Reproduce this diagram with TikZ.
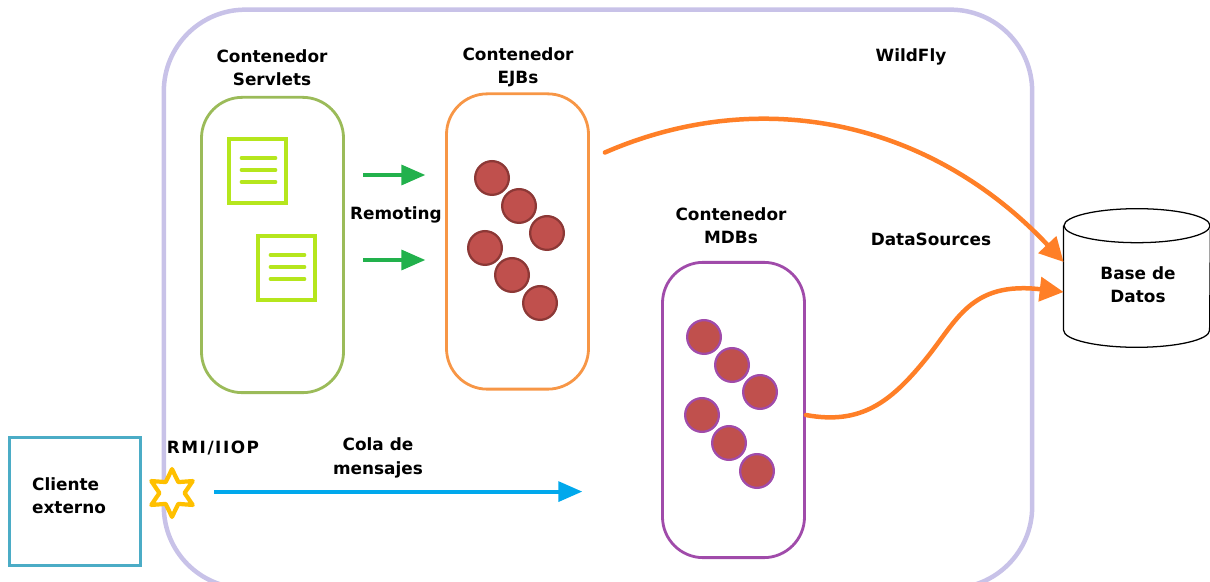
\documentclass[tikz,border=0pt]{standalone}
\usepackage{fontspec}
\setmainfont{DejaVu Sans}
\usepackage{xcolor}
\usepackage{tikz}
\usetikzlibrary{arrows.meta,shapes.geometric}
\definecolor{lavanda}{RGB}{200,194,232}
\definecolor{verdeserv}{RGB}{155,187,89}
\definecolor{naranjaejb}{RGB}{247,150,70}
\definecolor{moradomdb}{RGB}{160,75,170}
\definecolor{azulcliente}{RGB}{75,172,198}
\definecolor{limadoc}{RGB}{181,230,29}
\definecolor{rojobean}{RGB}{192,80,77}
\definecolor{bordebean}{RGB}{140,56,54}
\definecolor{verdeflecha}{RGB}{34,177,76}
\definecolor{naranjaflecha}{RGB}{255,127,39}
\definecolor{azulflecha}{RGB}{0,168,236}
\definecolor{oro}{RGB}{255,192,0}
\tikzset{
	contenedor/.style={draw, rounded corners=29pt, minimum width=101pt, minimum height=210pt, line width=2pt, inner sep=0},
	etiqueta/.style={font=\bfseries\fontsize{12}{16.5}\selectfont, align=center, inner sep=0},
	documento/.style={draw=limadoc, line width=3pt, minimum width=40pt, minimum height=46pt, inner sep=0},
	renglon/.style={limadoc, line width=2.6pt, line cap=round},
	bean/.style={circle, draw, fill=rojobean, line width=1.6pt, minimum size=24pt, inner sep=0},
	flechaverde/.style={verdeflecha, line width=2.8pt, -{Triangle[length=17pt,width=14pt]}},
	flechadatos/.style={naranjaflecha, line width=3.2pt, line cap=round, -{Triangle[length=17pt,width=17pt]}}
}
\begin{document}
\begin{tikzpicture}[x=0.025cm, y=-0.025cm]
	\useasboundingbox (0,0) rectangle (1210,582);
	\begin{scope}
	\clip (0,0) rectangle (1210,582);
	% Servidor
	\node[draw=lavanda, line width=3.2pt, rounded corners=58pt, minimum width=617.5pt, minimum height=411.5pt, inner sep=0] at (598,299) (wildfly) {};
	% Base de datos
	\node[minimum width=104pt, minimum height=98pt, inner sep=0] at (1137,278) (bd) {};
	\draw[line width=0.9pt] ([yshift=-12pt]bd.north west) -- ([yshift=12pt]bd.south west) arc[start angle=180, end angle=0, x radius=73, y radius=17] -- ([yshift=-12pt]bd.north east);
	\draw[line width=0.9pt] ([yshift=-12pt]bd.north) ellipse[x radius=73, y radius=17];
	\end{scope}
	% Contenedores
	\node[contenedor, draw=verdeserv] at (272.5,245) (servlets) {};
	\node[contenedor, draw=naranjaejb] at (517.5,241.5) (ejbs) {};
	\node[contenedor, draw=moradomdb] at (733.5,410) (mdbs) {};
	\node[draw=azulcliente, line width=2pt, minimum width=93pt, minimum height=91pt, inner sep=0] at (75,501.5) (cliente) {};
	% Servlets
	\node[documento] at (257.5,171) (doca) {};
	\node[documento] at (286.5,268) (docb) {};
	\foreach \doc in {doca,docb}
		\foreach \dy in {-13,-1,11}
			\draw[renglon] ([shift={(-16,\dy)}]\doc.center) -- ([shift={(18,\dy)}]\doc.center);
	% EJBs
	\foreach \n/\x/\y in {1/492/178, 2/519/206, 3/547/233, 4/485/248, 5/512/275, 6/540/303}
		\node[bean, draw=bordebean] at (\x,\y) (ejb\n) {};
	% MDBs
	\foreach \n/\x/\y in {1/704/337, 2/732/365, 3/760/392, 4/702/415, 5/729/443, 6/757/471}
		\node[bean, draw=moradomdb] at (\x,\y) (mdb\n) {};
	% Estrella RMI/IIOP
	\node[star, star points=6, star point ratio=1.9, draw=oro, fill=white, line width=3pt, line join=round, minimum size=34pt, inner sep=0] at (172,493) (rmi) {};
	% Flechas
	\coordinate (remotoa) at ([xshift=13pt]servlets.east |- 0,175);
	\coordinate (remotob) at ([xshift=13pt]servlets.east |- 0,260);
	\coordinate (ejbsa) at ([xshift=-14pt]ejbs.west |- 0,175);
	\coordinate (ejbsb) at ([xshift=-14pt]ejbs.west |- 0,260);
	\draw[flechaverde] (remotoa) -- (ejbsa);
	\draw[flechaverde] (remotob) -- (ejbsb);
	\coordinate (colaini) at ([xshift=30pt,yshift=1pt]rmi.center);
	\coordinate (colafin) at ([xshift=-56pt]mdbs.west |- colaini);
	\draw[azulflecha, line width=2.8pt, -{Triangle[length=17pt,width=14pt]}] (colaini) -- (colafin);
	\coordinate (ejbsal) at ([shift={(15,-89)}]ejbs.east);
	\coordinate (mdbsal) at (mdbs.east |- 0,415);
	\coordinate (bdarriba) at ([shift={(0,-16)}]bd.west);
	\coordinate (bdabajo) at ([shift={(0,14)}]bd.west);
	\draw[flechadatos] (ejbsal) .. controls (760,85) and (930,120) .. (bdarriba);
	\draw[flechadatos] (mdbsal) .. controls (860,425) and (890,403) .. (925,360) .. controls (957,321) and (970,281) .. (bdabajo);
	% Textos
	\node[etiqueta] at (272,68) (txtservlets) {Contenedor\\Servlets};
	\node[etiqueta] at (518,67) (txtejbs) {Contenedor\\EJBs};
	\node[etiqueta] at (731,226) (txtmdbs) {Contenedor\\MDBs};
	\node[etiqueta] at (911,57) (txtwildfly) {WildFly};
	\node[etiqueta] at (396,215) (txtremoting) {Remoting};
	\node[etiqueta] at (931,239) (txtdatos) {DataSources};
	\node[etiqueta] at (1138,285) (txtbd) {Base de\\Datos};
	\node[etiqueta, align=left] at (69,496) (txtcliente) {Cliente\\externo};
	\node[etiqueta] at (213,448) (txtrmi) {\addfontfeatures{LetterSpace=9}RMI/IIOP};
	\node[etiqueta] at (378,458) (txtcola) {Cola de\\mensajes};
\end{tikzpicture}
\end{document}
